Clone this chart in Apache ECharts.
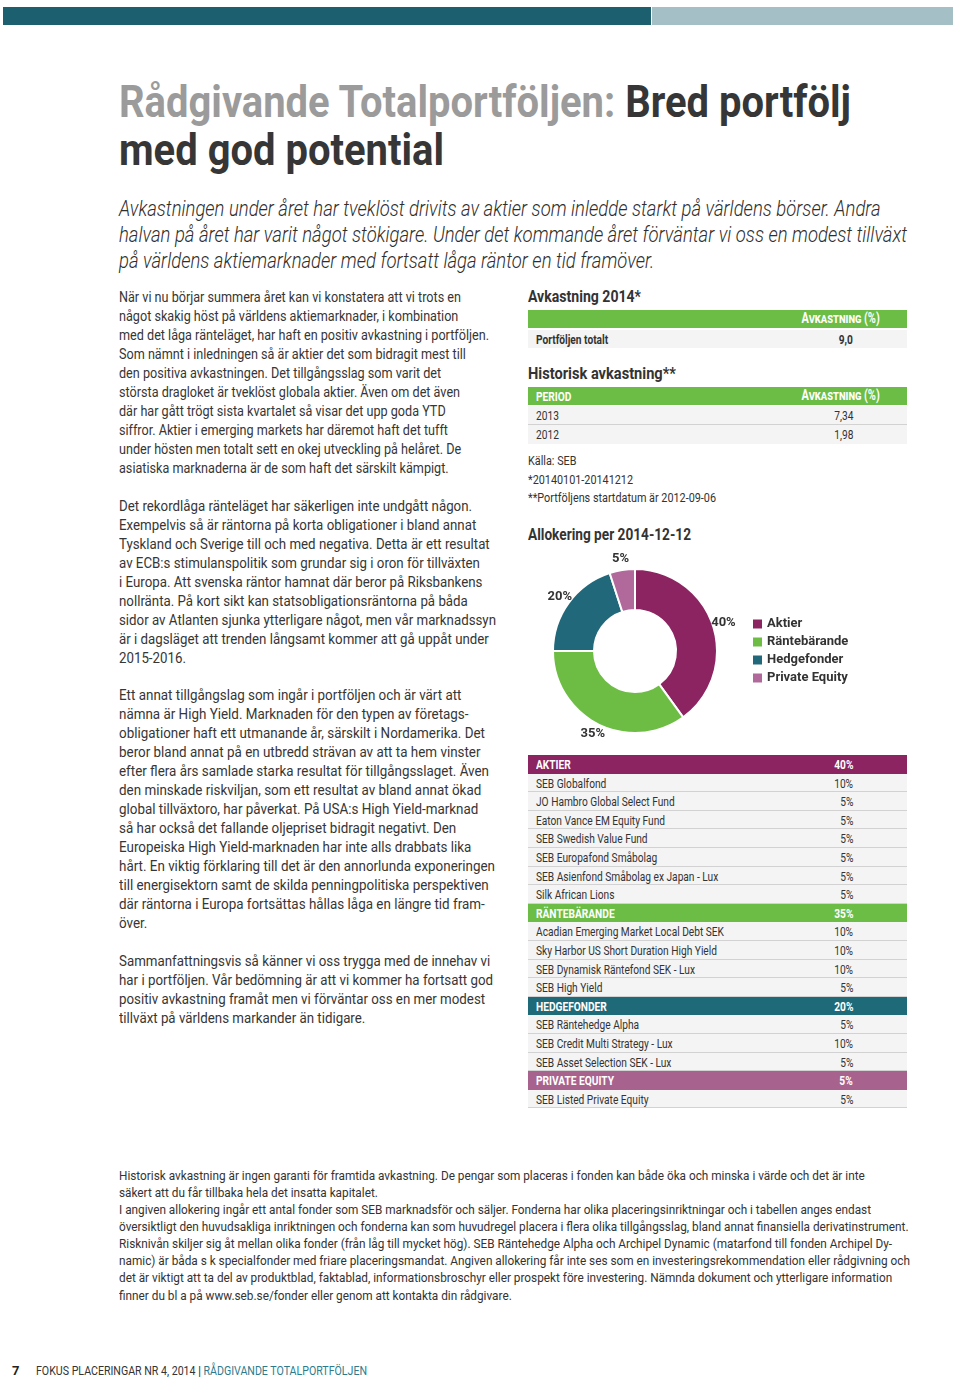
<!DOCTYPE html>
<html lang="sv"><head><meta charset="utf-8">
<script src="https://cdn.jsdelivr.net/npm/echarts@6/dist/echarts.min.js"></script>
<style>
html,body{margin:0;padding:0;background:#fff;}
body{width:960px;height:1380px;position:relative;overflow:hidden;font-family:Roboto,'Noto Sans',sans-serif;color:#363636;}
.abs{position:absolute;}
.fit{display:inline-block;white-space:nowrap;transform-origin:0 0;}
.sq{display:inline-block;white-space:nowrap;transform-origin:0 50%;}
.sqr{display:inline-block;white-space:nowrap;transform-origin:100% 50%;}
.body{font-size:15px;line-height:19px;}
.row{position:absolute;left:528px;width:379px;height:18.6px;line-height:18.6px;font-size:13.5px;background:#f4f4f4;border-bottom:1px solid #d2d2d2;box-sizing:border-box;color:#333;}
.row .l{position:absolute;left:8px;top:0;}
.row .v{position:absolute;right:54px;top:0;}
.hdr{color:#fff;font-weight:700;border-bottom:none;}
.bar{position:absolute;left:528px;width:379px;height:18px;line-height:18px;background:#6cbd45;color:#fff;font-weight:700;font-size:13.5px;}
.sc{font-variant:small-caps;font-size:14.5px;}
.h2{font-weight:700;font-size:16.5px;line-height:20px;color:#333;}
</style></head>
<body>
<div class="abs" style="left:3px;top:7px;width:648px;height:18px;background:#1c5f6e"></div>
<div class="abs" style="left:652px;top:7px;width:301px;height:18px;background:#a4bfc6"></div>

<div class="abs" style="left:119px;top:78px;">
 <div class="fit" data-w="732" style="font-weight:700;font-size:44px;line-height:48px;color:#363636;">
  <div><span style="color:#9b9b9b">Rådgivande Totalportföljen:</span> Bred portfölj</div>
  <div>med god potential</div>
 </div>
</div>

<div class="abs" style="left:119px;top:196px;">
 <div class="fit" data-w="788" style="font-weight:300;font-style:italic;font-size:22px;line-height:26px;color:#2e2e2e;">
  <div>Avkastningen under året har tveklöst drivits av aktier som inledde starkt på världens börser. Andra</div>
  <div>halvan på året har varit något stökigare. Under det kommande året förväntar vi oss en modest tillväxt</div>
  <div>på världens aktiemarknader med fortsatt låga räntor en tid framöver.</div>
 </div>
</div>

<div class="abs body" style="left:119px;top:287.5px;"><div class="fit" data-w="370">
<div>När vi nu börjar summera året kan vi konstatera att vi trots en</div>
<div>något skakig höst på världens aktiemarknader, i kombination</div>
<div>med det låga ränteläget, har haft en positiv avkastning i portföljen.</div>
<div>Som nämnt i inledningen så är aktier det som bidragit mest till</div>
<div>den positiva avkastningen. Det tillgångsslag som varit det</div>
<div>största dragloket är tveklöst globala aktier. Även om det även</div>
<div>där har gått trögt sista kvartalet så visar det upp goda YTD</div>
<div>siffror. Aktier i emerging markets har däremot haft det tufft</div>
<div>under hösten men totalt sett en okej utveckling på helåret. De</div>
<div>asiatiska marknaderna är de som haft det särskilt kämpigt.</div>
</div></div>

<div class="abs body" style="left:119px;top:496.5px;"><div class="fit" data-w="377">
<div>Det rekordlåga ränteläget har säkerligen inte undgått någon.</div>
<div>Exempelvis så är räntorna på korta obligationer i bland annat</div>
<div>Tyskland och Sverige till och med negativa. Detta är ett resultat</div>
<div>av ECB:s stimulanspolitik som grundar sig i oron för tillväxten</div>
<div>i Europa. Att svenska räntor hamnat där beror på Riksbankens</div>
<div>nollränta. På kort sikt kan statsobligationsräntorna på båda</div>
<div>sidor av Atlanten sjunka ytterligare något, men vår marknadssyn</div>
<div>är i dagsläget att trenden långsamt kommer att gå uppåt under</div>
<div>2015-2016.</div>
</div></div>

<div class="abs body" style="left:119px;top:685.5px;"><div class="fit" data-w="376">
<div>Ett annat tillgångslag som ingår i portföljen och är värt att</div>
<div>nämna är High Yield. Marknaden för den typen av företags-</div>
<div>obligationer haft ett utmanande år, särskilt i Nordamerika. Det</div>
<div>beror bland annat på en utbredd strävan av att ta hem vinster</div>
<div>efter flera års samlade starka resultat för tillgångsslaget. Även</div>
<div>den minskade riskviljan, som ett resultat av bland annat ökad</div>
<div>global tillväxtoro, har påverkat. På USA:s High Yield-marknad</div>
<div>så har också det fallande oljepriset bidragit negativt. Den</div>
<div>Europeiska High Yield-marknaden har inte alls drabbats lika</div>
<div>hårt. En viktig förklaring till det är den annorlunda exponeringen</div>
<div>till energisektorn samt de skilda penningpolitiska perspektiven</div>
<div>där räntorna i Europa fortsättas hållas låga en längre tid fram-</div>
<div>över.</div>
</div></div>

<div class="abs body" style="left:119px;top:951.5px;"><div class="fit" data-w="374">
<div>Sammanfattningsvis så känner vi oss trygga med de innehav vi</div>
<div>har i portföljen. Vår bedömning är att vi kommer ha fortsatt god</div>
<div>positiv avkastning framåt men vi förväntar oss en mer modest</div>
<div>tillväxt på världens markander än tidigare.</div>
</div></div>

<!-- right column -->
<div class="abs" style="left:528px;top:287px;"><div class="fit h2" data-w="113">Avkastning 2014*</div></div>
<div class="bar" style="top:310px;"><span class="sqr sc" style="position:absolute;right:27px;">Avkastning (%)</span></div>
<div class="row" id="totRow" style="top:330px;height:18px;border-bottom:none;font-weight:700;"></div>

<div class="abs" style="left:528px;top:364px;"><div class="fit h2" data-w="148">Historisk avkastning**</div></div>
<div class="bar" style="top:387px;"><span class="sq" style="position:absolute;left:8px;">PERIOD</span><span class="sqr sc" style="position:absolute;right:27px;">Avkastning (%)</span></div>
<div id="histRows"></div>

<div class="abs" style="left:528px;top:452px;font-size:13px;line-height:18.5px;color:#333;">
 <div class="fit" data-w="188">
 <div>Källa: SEB</div>
 <div>*20140101-20141212</div>
 <div>**Portföljens startdatum är 2012-09-06</div>
 </div>
</div>

<div class="abs" style="left:528px;top:525px;"><div class="fit h2" data-w="163">Allokering per 2014-12-12</div></div>
<div id="donut" class="abs" style="left:528px;top:540px;width:420px;height:210px;"></div>

<div id="allocTable"></div>

<div class="abs" style="left:119px;top:1166.5px;font-size:13px;line-height:17.15px;color:#333;">
 <div class="fit" data-w="791">
  <div>Historisk avkastning är ingen garanti för framtida avkastning. De pengar som placeras i fonden kan både öka och minska i värde och det är inte</div>
  <div>säkert att du får tillbaka hela det insatta kapitalet.</div>
  <div>I angiven allokering ingår ett antal fonder som SEB marknadsför och säljer. Fonderna har olika placeringsinriktningar och i tabellen anges endast</div>
  <div>översiktligt den huvudsakliga inriktningen och fonderna kan som huvudregel placera i flera olika tillgångsslag, bland annat finansiella derivatinstrument.</div>
  <div>Risknivån skiljer sig åt mellan olika fonder (från låg till mycket hög). SEB Räntehedge Alpha och Archipel Dynamic (matarfond till fonden Archipel Dy-</div>
  <div>namic) är båda s k specialfonder med friare placeringsmandat. Angiven allokering får inte ses som en investeringsrekommendation eller rådgivning och</div>
  <div>det är viktigt att ta del av produktblad, faktablad, informationsbroschyr eller prospekt före investering. Nämnda dokument och ytterligare information</div>
  <div>finner du bl a på www.seb.se/fonder eller genom att kontakta din rådgivare.</div>
 </div>
</div>

<div class="abs" style="left:12px;top:1363px;font-size:13px;line-height:16px;font-weight:700;color:#222;">7</div>
<div class="abs" style="left:36px;top:1363px;font-size:13px;line-height:16px;color:#333;">
 <div class="fit" data-w="331">FOKUS PLACERINGAR NR 4, 2014 <b>|</b> <span style="color:#2b7b8c">RÅDGIVANDE TOTALPORTFÖLJEN</span></div>
</div>

<script>
// ---- data ----
const categories = ['Aktier', 'Räntebärande', 'Hedgefonder', 'Private Equity'];
const allocation = [40, 35, 20, 5];
const aktierFunds = ['SEB Globalfond', 'JO Hambro Global Select Fund', 'Eaton Vance EM Equity Fund', 'SEB Swedish Value Fund', 'SEB Europafond Småbolag', 'SEB Asienfond Småbolag ex Japan - Lux', 'Silk African Lions'];
const aktierWeights = [10, 5, 5, 5, 5, 5, 5];
const ranteFunds = ['Acadian Emerging Market Local Debt SEK', 'Sky Harbor US Short Duration High Yield', 'SEB Dynamisk Räntefond SEK - Lux', 'SEB High Yield'];
const ranteWeights = [10, 10, 10, 5];
const hedgeFunds = ['SEB Räntehedge Alpha', 'SEB Credit Multi Strategy - Lux', 'SEB Asset Selection SEK - Lux'];
const hedgeWeights = [5, 10, 5];
const peFunds = ['SEB Listed Private Equity'];
const peWeights = [5];
const totalLabel = 'Portföljen totalt';
const totalReturn = '9,0';
const histPeriods = ['2013', '2012'];
const histReturns = ['7,34', '1,98'];

// ---- styles ----
const sliceColors = ['#8c2461', '#6dbd45', '#21687a', '#b0699a'];
const headerColors = ['#8c2461', '#6cbd45', '#1f6a78', '#a7638e'];

// ---- tables ----
document.getElementById('totRow').innerHTML =
  '<span class="l sq">' + totalLabel + '</span><span class="v sqr">' + totalReturn + '</span>';
let hr = '';
histPeriods.forEach((p, i) => {
  hr += '<div class="row" style="top:' + (406 + i * 19) + 'px;height:19px;line-height:18px;' + (i === histPeriods.length - 1 ? 'border-bottom:none;' : '') + '">' +
    '<span class="l sq">' + p + '</span><span class="v sqr">' + histReturns[i] + '</span></div>';
});
document.getElementById('histRows').innerHTML = hr;

const groups = [[aktierFunds, aktierWeights], [ranteFunds, ranteWeights], [hedgeFunds, hedgeWeights], [peFunds, peWeights]];
let html = '', r = 0;
const top0 = 755, rh = 18.6;
groups.forEach((g, gi) => {
  html += '<div class="row hdr" style="top:' + (top0 + r * rh) + 'px;background:' + headerColors[gi] + '"><span class="l sq">' +
    categories[gi].toLocaleUpperCase('sv') + '</span><span class="v sqr">' + allocation[gi] + '%</span></div>';
  r++;
  g[0].forEach((f, fi) => {
    html += '<div class="row" style="top:' + (top0 + r * rh) + 'px"><span class="l sq">' + f + '</span><span class="v sqr">' + g[1][fi] + '%</span></div>';
    r++;
  });
});
document.getElementById('allocTable').innerHTML = html;

// ---- text fitting ----
function fitAll() {
  document.querySelectorAll('[data-w]').forEach(el => {
    el.style.transform = 'none';
    const nat = el.getBoundingClientRect().width;
    el.style.transform = 'scaleX(' + (+el.dataset.w / nat) + ')';
  });
  const probe = document.createElement('span');
  probe.style.cssText = 'position:absolute;visibility:hidden;white-space:nowrap;font-size:13.5px;';
  probe.textContent = 'Acadian Emerging Market Local Debt SEK';
  document.body.appendChild(probe);
  const k = 188 / probe.getBoundingClientRect().width;
  probe.remove();
  document.querySelectorAll('.sq,.sqr').forEach(el => { el.style.transform = 'scaleX(' + k + ')'; });
}
fitAll();
if (document.fonts && document.fonts.ready) document.fonts.ready.then(fitAll);

// ---- donut ----
const chart = echarts.init(document.getElementById('donut'), null, { renderer: 'canvas' });
const pieData = categories.map((c, i) => ({ name: c, value: allocation[i] }));
chart.setOption({
  animation: false,
  color: sliceColors,
  legend: {
    orient: 'vertical', left: 218, top: 72, itemWidth: 11, itemHeight: 11, itemGap: 4,
    icon: 'rect', selectedMode: false, data: categories,
    textStyle: { fontFamily: 'Roboto', fontWeight: 'bold', fontSize: 13, lineHeight: 14, color: '#333', padding: [0, 0, 0, -1] }
  },
  series: [
    {
      type: 'pie', center: [107, 111], radius: [41, 82], startAngle: 90, clockwise: true,
      avoidLabelOverlap: false, silent: true,
      itemStyle: { borderColor: '#fff', borderWidth: 2 },
      label: { show: false }, labelLine: { show: false },
      data: pieData
    },
    {
      type: 'pie', center: [107, 111], radius: [89, 91], startAngle: 90, clockwise: true,
      avoidLabelOverlap: false, silent: true,
      itemStyle: { color: 'rgba(0,0,0,0)' },
      label: {
        show: true, position: 'inside', formatter: p => p.value + '%',
        fontFamily: 'Roboto', fontWeight: 'bold', fontSize: 13, color: '#333'
      },
      labelLine: { show: false },
      data: pieData
    }
  ]
});
</script>
</body></html>
